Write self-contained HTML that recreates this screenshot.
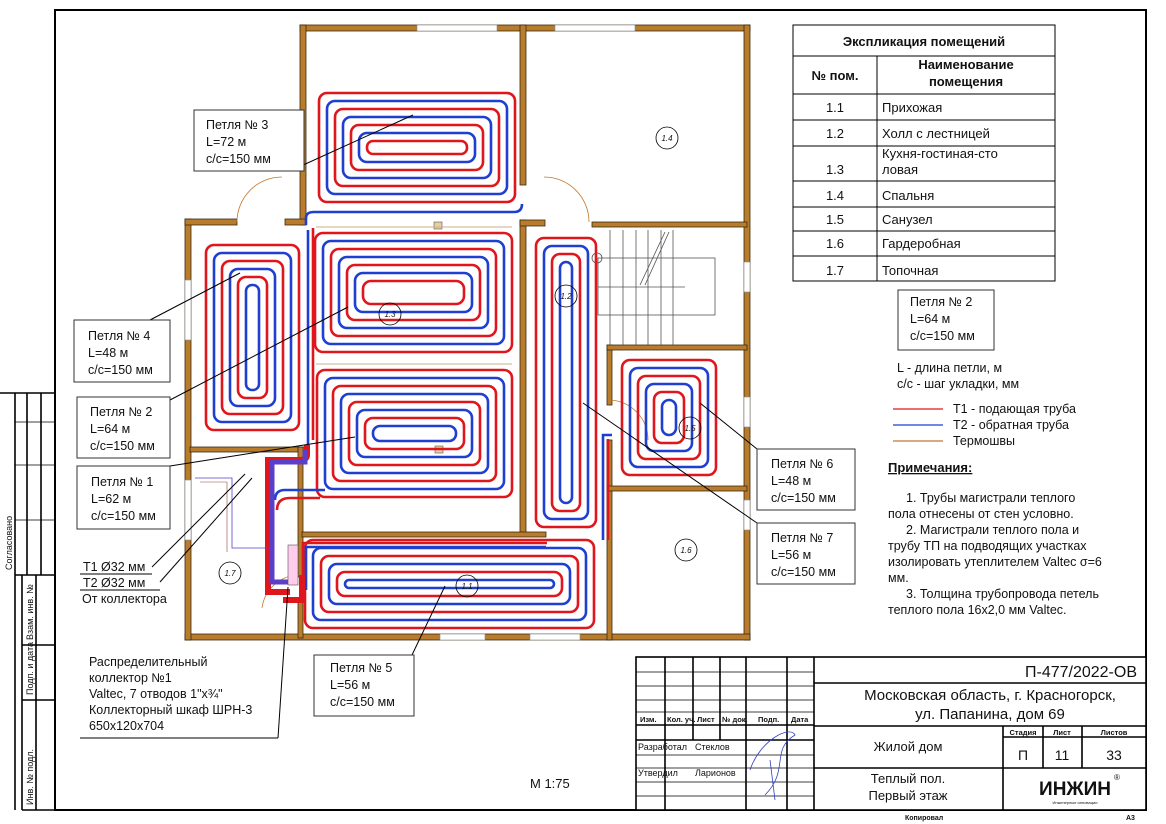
<!DOCTYPE html>
<html><head><meta charset="utf-8"><style>
html,body{margin:0;padding:0;background:#fff}
svg{display:block}
text{font-family:"Liberation Sans",sans-serif;fill:#111}
.w{fill:#b97c2c;stroke:#3a2a10;stroke-width:0.8}
.r{fill:none;stroke:#e0161d;stroke-width:2.6}
.b{fill:none;stroke:#1f3fd0;stroke-width:2.6}
.l{stroke:#000;stroke-width:1;fill:none}
.bx{fill:#fff;stroke:#333;stroke-width:1}
.t{stroke:#000;stroke-width:1.6;fill:none}
.tt{stroke:#000;stroke-width:0.8;fill:none}
</style></head><body>
<svg width="1166" height="824" viewBox="0 0 1166 824" xmlns="http://www.w3.org/2000/svg">
<rect x="55" y="10" width="1091" height="800" fill="none" stroke="#000" stroke-width="2"/>
<g class="t">
<line x1="0" y1="393" x2="55" y2="393"/>
<line x1="15" y1="393" x2="15" y2="810"/>
<line x1="27" y1="393" x2="27" y2="575"/>
<line x1="41" y1="393" x2="41" y2="575"/>
<line x1="22" y1="575" x2="22" y2="810"/>
<line x1="36" y1="575" x2="36" y2="810"/>
<line x1="15" y1="575" x2="55" y2="575"/>
<line x1="22" y1="645" x2="55" y2="645"/>
<line x1="22" y1="700" x2="55" y2="700"/>
<line x1="22" y1="810" x2="55" y2="810"/>
</g>
<g class="tt"><line x1="15" y1="422" x2="55" y2="422"/><line x1="15" y1="465" x2="55" y2="465"/><line x1="15" y1="520" x2="55" y2="520"/></g>
<text font-size="9" transform="translate(12,570) rotate(-90)">Согласовано</text>
<text font-size="9" transform="translate(33,640) rotate(-90)">Взам. инв. №</text>
<text font-size="9" transform="translate(33,695) rotate(-90)">Подп. и дата</text>
<text font-size="9" transform="translate(33,805) rotate(-90)">Инв. № подл.</text>

<rect class="w" x="300" y="25" width="450" height="6"/>
<rect x="417" y="25" width="80" height="6" fill="#fff" stroke="#888" stroke-width="0.6"/>
<rect x="555" y="25" width="80" height="6" fill="#fff" stroke="#888" stroke-width="0.6"/>
<rect class="w" x="300" y="25" width="6" height="200"/>
<rect class="w" x="744" y="25" width="6" height="615"/>
<rect x="744" y="262" width="6" height="30" fill="#fff" stroke="#888" stroke-width="0.6"/>
<rect x="744" y="397" width="6" height="30" fill="#fff" stroke="#888" stroke-width="0.6"/>
<rect x="744" y="500" width="6" height="30" fill="#fff" stroke="#888" stroke-width="0.6"/>
<rect class="w" x="185" y="634" width="565" height="6"/>
<rect x="440" y="634" width="45" height="6" fill="#fff" stroke="#888" stroke-width="0.6"/>
<rect x="530" y="634" width="50" height="6" fill="#fff" stroke="#888" stroke-width="0.6"/>
<rect class="w" x="185" y="219" width="6" height="421"/>
<rect x="185" y="280" width="6" height="60" fill="#fff" stroke="#888" stroke-width="0.6"/>
<rect x="185" y="480" width="6" height="60" fill="#fff" stroke="#888" stroke-width="0.6"/>
<rect class="w" x="185" y="219" width="52" height="6"/>
<rect class="w" x="285" y="219" width="21" height="6"/>
<rect class="w" x="520" y="25" width="6" height="160"/>
<rect class="w" x="520" y="220" width="6" height="315"/>
<rect class="w" x="520" y="220" width="25" height="6"/>
<rect class="w" x="592" y="222" width="155" height="5"/>
<rect class="w" x="190" y="447" width="115" height="5"/>
<rect class="w" x="298" y="447" width="5" height="130"/>
<rect class="w" x="298" y="600" width="5" height="38"/>
<rect class="w" x="302" y="532" width="244" height="5"/>
<rect class="w" x="607" y="345" width="5" height="60"/>
<rect class="w" x="607" y="440" width="5" height="200"/>
<rect class="w" x="607" y="345" width="140" height="5"/>
<rect class="w" x="607" y="486" width="140" height="5"/>
<g fill="none" stroke="#c07830" stroke-width="0.8">
<path d="M282 177 A45 45 0 0 0 237 222"/>
<path d="M544 177 A45 45 0 0 1 589 222"/>
<path d="M610 400 A40 40 0 0 1 648 440"/>
<path d="M262 608 A38 38 0 0 1 298 575"/>
</g>
<g stroke="#555" stroke-width="0.8" fill="none">
<rect x="598" y="258" width="117" height="57"/>
<line x1="598" y1="287" x2="685" y2="287"/>
<line x1="610" y1="230" x2="610" y2="345"/><line x1="623" y1="230" x2="623" y2="345"/><line x1="636" y1="230" x2="636" y2="345"/><line x1="648" y1="230" x2="648" y2="345"/><line x1="661" y1="230" x2="661" y2="345"/><line x1="673" y1="230" x2="673" y2="345"/>
<line x1="665" y1="232" x2="640" y2="285"/><line x1="669" y1="232" x2="645" y2="285"/>
<circle cx="597" cy="258" r="5"/>
</g>
<rect x="434" y="222" width="8" height="7" fill="#e7cfa0" stroke="#555" stroke-width="0.6"/>
<rect x="435" y="446" width="8" height="7" fill="#e7cfa0" stroke="#555" stroke-width="0.6"/>
<line x1="316" y1="227" x2="512" y2="227" stroke="#c9b08a" stroke-width="1"/>
<line x1="316" y1="364" x2="512" y2="364" stroke="#c9b08a" stroke-width="1"/>

<g>
<rect class="r" x="319" y="93" width="196" height="109" rx="8"/>
<rect class="b" x="327" y="101" width="180" height="93" rx="8"/>
<rect class="r" x="335" y="109" width="164" height="77" rx="8"/>
<rect class="b" x="343" y="117" width="148" height="61" rx="8"/>
<rect class="r" x="351" y="125" width="132" height="45" rx="8"/>
<rect class="b" x="359" y="133" width="116" height="29" rx="8"/>
<rect class="r" x="367" y="141" width="100" height="13" rx="6"/>
<path class="b" d="M306 225 V218 Q306 212 314 212 H514 Q522 212 522 204"/>

<rect class="r" x="315" y="233" width="197" height="119" rx="8"/>
<rect class="b" x="323" y="241" width="181" height="103" rx="8"/>
<rect class="r" x="331" y="249" width="165" height="87" rx="8"/>
<rect class="b" x="339" y="257" width="149" height="71" rx="8"/>
<rect class="r" x="347" y="265" width="133" height="55" rx="8"/>
<rect class="b" x="355" y="273" width="117" height="39" rx="8"/>
<rect class="r" x="363" y="281" width="101" height="23" rx="8"/>
<path class="b" d="M308 230 V445"/>
<path class="r" d="M313 228 V440"/>

<rect class="r" x="317" y="370" width="195" height="127" rx="8"/>
<rect class="b" x="325" y="378" width="179" height="111" rx="8"/>
<rect class="r" x="333" y="386" width="163" height="95" rx="8"/>
<rect class="b" x="341" y="394" width="147" height="79" rx="8"/>
<rect class="r" x="349" y="402" width="131" height="63" rx="8"/>
<rect class="b" x="357" y="410" width="115" height="47" rx="8"/>
<rect class="r" x="365" y="418" width="99" height="31" rx="8"/>
<rect class="b" x="373" y="426" width="83" height="15" rx="7"/>
<path class="b" d="M275 500 Q275 490 285 490 H325"/>
<path class="r" d="M277 510 Q277 498 290 498 H320"/>

<rect class="r" x="206" y="245" width="93" height="185" rx="8"/>
<rect class="b" x="214" y="253" width="77" height="169" rx="8"/>
<rect class="r" x="222" y="261" width="61" height="153" rx="8"/>
<rect class="b" x="230" y="269" width="45" height="137" rx="8"/>
<rect class="r" x="238" y="277" width="29" height="121" rx="8"/>
<rect class="b" x="246" y="285" width="13" height="105" rx="6"/>

<rect class="r" x="536" y="238" width="60" height="289" rx="8"/>
<rect class="b" x="544" y="246" width="44" height="273" rx="8"/>
<rect class="r" x="552" y="254" width="28" height="257" rx="8"/>
<rect class="b" x="560" y="262" width="12" height="241" rx="6"/>
<path class="b" d="M603 540 V435 H612"/>
<path class="r" d="M608 540 V439"/>

<rect class="r" x="622" y="360" width="94" height="115" rx="8"/>
<rect class="b" x="630" y="368" width="78" height="99" rx="8"/>
<rect class="r" x="638" y="376" width="62" height="83" rx="8"/>
<rect class="b" x="646" y="384" width="46" height="67" rx="8"/>
<rect class="r" x="654" y="392" width="30" height="51" rx="8"/>
<rect class="b" x="662" y="400" width="14" height="35" rx="7"/>

<rect class="r" x="305" y="540" width="289" height="88" rx="8"/>
<rect class="b" x="313" y="548" width="273" height="72" rx="8"/>
<rect class="r" x="321" y="556" width="257" height="56" rx="8"/>
<rect class="b" x="329" y="564" width="241" height="40" rx="8"/>
<rect class="r" x="337" y="572" width="225" height="24" rx="8"/>
<rect class="b" x="345" y="580" width="209" height="8" rx="4"/>
<path class="r" d="M303 595 V543 H547"/>
<path class="b" d="M306 590 V547 H546"/>
</g>
<path d="M307 445 V455 Q307 460 300 460 H268 V592 H290" fill="none" stroke="#e0161d" stroke-width="6"/>
<path d="M305 450 V462 H272 V582 H290" fill="none" stroke="#5a3fc8" stroke-width="5"/>
<path d="M283 600 H302 V575" fill="none" stroke="#e0161d" stroke-width="6"/>
<rect x="288" y="545" width="10" height="40" fill="#fce" stroke="#555" stroke-width="0.6"/>
<path d="M195 478 H232 V548 H268" fill="none" stroke="#5a3fc8" stroke-width="0.8"/>
<path d="M200 482 H227 V552" fill="none" stroke="#9a4040" stroke-width="0.6"/>

<g fill="none" stroke="#000" stroke-width="0.8">
<circle cx="667" cy="138" r="11"/><circle cx="390" cy="314" r="11"/><circle cx="566" cy="296" r="11"/>
<circle cx="690" cy="428" r="11"/><circle cx="230" cy="573" r="11"/><circle cx="467" cy="586" r="11"/><circle cx="686" cy="550" r="11"/>
</g>
<g font-size="8" text-anchor="middle" font-style="italic">
<text x="667" y="141">1.4</text><text x="390" y="317">1.3</text><text x="566" y="299">1.2</text>
<text x="690" y="431">1.5</text><text x="230" y="576">1.7</text><text x="467" y="589">1.1</text><text x="686" y="553">1.6</text>
</g>

<g class="l" stroke-width="0.8">
<line x1="290" y1="171" x2="413" y2="115"/>
<line x1="150" y1="320" x2="240" y2="273"/>
<line x1="170" y1="400" x2="348" y2="307"/>
<line x1="170" y1="466" x2="355" y2="437"/>
<line x1="152" y1="567" x2="245" y2="474"/>
<line x1="160" y1="582" x2="252" y2="478"/>
<line x1="80" y1="574" x2="152" y2="574"/><line x1="80" y1="590" x2="160" y2="590"/>
<line x1="80" y1="738" x2="278" y2="738"/>
<line x1="278" y1="738" x2="288" y2="587"/>
<line x1="412" y1="655" x2="445" y2="586"/>
<line x1="757" y1="449" x2="700" y2="403"/>
<line x1="757" y1="523" x2="583" y2="403"/>
</g>

<g font-size="12.5">
<rect class="bx" x="194" y="110" width="110" height="61"/>
<text x="206" y="129">Петля № 3</text><text x="206" y="146">L=72 м</text><text x="206" y="163">с/с=150 мм</text>
<rect class="bx" x="74" y="320" width="96" height="62"/>
<text x="88" y="340">Петля № 4</text><text x="88" y="357">L=48 м</text><text x="88" y="374">с/с=150 мм</text>
<rect class="bx" x="77" y="397" width="93" height="61"/>
<text x="90" y="416">Петля № 2</text><text x="90" y="433">L=64 м</text><text x="90" y="450">с/с=150 мм</text>
<rect class="bx" x="77" y="466" width="93" height="63"/>
<text x="91" y="486">Петля № 1</text><text x="91" y="503">L=62 м</text><text x="91" y="520">с/с=150 мм</text>
<text x="83" y="571">Т1 Ø32 мм</text><text x="83" y="587">Т2 Ø32 мм</text><text x="82" y="603">От коллектора</text>
<text x="89" y="666">Распределительный</text><text x="89" y="682">коллектор №1</text>
<text x="89" y="698">Valtec, 7 отводов 1"x¾"</text><text x="89" y="714">Коллекторный шкаф ШРН-3</text><text x="89" y="730">650x120x704</text>
<rect class="bx" x="314" y="655" width="100" height="61"/>
<text x="330" y="672">Петля № 5</text><text x="330" y="689">L=56 м</text><text x="330" y="706">с/с=150 мм</text>
<rect class="bx" x="757" y="449" width="98" height="61"/>
<text x="771" y="468">Петля № 6</text><text x="771" y="485">L=48 м</text><text x="771" y="502">с/с=150 мм</text>
<rect class="bx" x="757" y="523" width="98" height="61"/>
<text x="771" y="542">Петля № 7</text><text x="771" y="559">L=56 м</text><text x="771" y="576">с/с=150 мм</text>
<rect class="bx" x="898" y="290" width="96" height="60"/>
<text x="910" y="306">Петля № 2</text><text x="910" y="323">L=64 м</text><text x="910" y="340">с/с=150 мм</text>
</g>

<g stroke="#000" stroke-width="1" fill="none">
<rect x="793" y="25" width="262" height="256"/>
<line x1="793" y1="56" x2="1055" y2="56"/><line x1="793" y1="94" x2="1055" y2="94"/>
<line x1="877" y1="56" x2="877" y2="281"/>
<line x1="793" y1="120" x2="1055" y2="120"/><line x1="793" y1="146" x2="1055" y2="146"/>
<line x1="793" y1="181" x2="1055" y2="181"/><line x1="793" y1="207" x2="1055" y2="207"/>
<line x1="793" y1="231" x2="1055" y2="231"/><line x1="793" y1="256" x2="1055" y2="256"/>
</g>
<g font-size="13">
<text x="924" y="46" text-anchor="middle" font-weight="bold">Экспликация помещений</text>
<text x="835" y="80" text-anchor="middle" font-weight="bold">№ пом.</text>
<text x="966" y="69" text-anchor="middle" font-weight="bold">Наименование</text>
<text x="966" y="86" text-anchor="middle" font-weight="bold">помещения</text>
<g text-anchor="middle"><text x="835" y="112">1.1</text><text x="835" y="138">1.2</text><text x="835" y="174">1.3</text><text x="835" y="200">1.4</text><text x="835" y="224">1.5</text><text x="835" y="248">1.6</text><text x="835" y="275">1.7</text></g>
<text x="882" y="112">Прихожая</text><text x="882" y="138">Холл с лестницей</text>
<text x="882" y="158">Кухня-гостиная-сто</text><text x="882" y="174">ловая</text>
<text x="882" y="200">Спальня</text><text x="882" y="224">Санузел</text><text x="882" y="248">Гардеробная</text><text x="882" y="275">Топочная</text>
</g>
<g font-size="12.5">
<text x="897" y="372">L - длина петли, м</text><text x="897" y="388">с/с - шаг укладки, мм</text>
<line x1="893" y1="409" x2="943" y2="409" stroke="#e0161d" stroke-width="1.2"/>
<line x1="893" y1="425" x2="943" y2="425" stroke="#1f3fd0" stroke-width="1.2"/>
<line x1="893" y1="441" x2="943" y2="441" stroke="#c07830" stroke-width="1.2"/>
<text x="953" y="413">Т1 - подающая труба</text><text x="953" y="429">Т2 - обратная труба</text><text x="953" y="445">Термошвы</text>
<text x="888" y="472" font-weight="bold" font-size="13" text-decoration="underline">Примечания:</text>
<text x="906" y="502">1.    Трубы магистрали теплого</text><text x="888" y="518">пола отнесены от стен условно.</text>
<text x="906" y="534">2.    Магистрали теплого пола и</text><text x="888" y="550">трубу ТП на подводящих участках</text>
<text x="888" y="566">изолировать утеплителем Valtec σ=6</text><text x="888" y="582">мм.</text>
<text x="906" y="598">3.    Толщина трубопровода петель</text><text x="888" y="614">теплого пола 16x2,0 мм Valtec.</text>
</g>
<text x="530" y="788" font-size="13">М 1:75</text>

<g class="t">
<rect x="636" y="657" width="510" height="153" fill="#fff"/>
<line x1="814" y1="657" x2="814" y2="810"/>
<line x1="665" y1="657" x2="665" y2="810"/><line x1="693" y1="657" x2="693" y2="740"/>
<line x1="720" y1="657" x2="720" y2="740"/><line x1="746" y1="657" x2="746" y2="810"/>
<line x1="787" y1="657" x2="787" y2="810"/>
<line x1="636" y1="725" x2="814" y2="725"/><line x1="636" y1="740" x2="814" y2="740"/>
<line x1="814" y1="683" x2="1146" y2="683"/><line x1="814" y1="726" x2="1146" y2="726"/><line x1="814" y1="768" x2="1146" y2="768"/>
<line x1="1003" y1="726" x2="1003" y2="810"/><line x1="1043" y1="726" x2="1043" y2="768"/><line x1="1082" y1="726" x2="1082" y2="768"/>
<line x1="1003" y1="737" x2="1146" y2="737"/>
</g>
<g class="tt">
<line x1="636" y1="672" x2="814" y2="672"/><line x1="636" y1="686" x2="814" y2="686"/><line x1="636" y1="700" x2="814" y2="700"/><line x1="636" y1="712" x2="814" y2="712"/>
<line x1="636" y1="755" x2="814" y2="755"/><line x1="636" y1="768" x2="814" y2="768"/><line x1="636" y1="782" x2="814" y2="782"/><line x1="636" y1="796" x2="814" y2="796"/>
</g>
<g font-size="7.5" font-weight="bold">
<text x="640" y="722">Изм.</text><text x="667" y="722">Кол. уч.</text><text x="697" y="722">Лист</text><text x="722" y="722">№ док.</text><text x="758" y="722">Подп.</text><text x="791" y="722">Дата</text>
</g>
<g font-size="9">
<text x="638" y="750">Разработал</text><text x="695" y="750">Стеклов</text>
<text x="638" y="776">Утвердил</text><text x="695" y="776">Ларионов</text>
</g>
<path d="M750 770 C760 740 790 725 795 735 C770 750 790 770 765 795 M770 760 L775 800" fill="none" stroke="#3040c0" stroke-width="0.8"/>
<text x="1137" y="677" font-size="16" text-anchor="end">П-477/2022-ОВ</text>
<text x="990" y="700" font-size="15" text-anchor="middle">Московская область, г. Красногорск,</text>
<text x="990" y="719" font-size="15" text-anchor="middle">ул. Папанина, дом 69</text>
<text x="908" y="751" font-size="13" text-anchor="middle">Жилой дом</text>
<g font-size="7.5" font-weight="bold" text-anchor="middle"><text x="1023" y="735">Стадия</text><text x="1062" y="735">Лист</text><text x="1114" y="735">Листов</text></g>
<g font-size="14" text-anchor="middle"><text x="1023" y="760">П</text><text x="1062" y="760">11</text><text x="1114" y="760">33</text></g>
<text x="908" y="783" font-size="13" text-anchor="middle">Теплый пол.</text>
<text x="908" y="800" font-size="13" text-anchor="middle">Первый этаж</text>
<text x="1075" y="795" font-size="19" font-weight="bold" text-anchor="middle" fill="#111">ИНЖИН</text>
<text x="1114" y="780" font-size="8">®</text>
<text x="1075" y="804" font-size="4" text-anchor="middle" fill="#5a8a30">Инженерные инновации</text>
<text x="905" y="820" font-size="7" font-weight="bold">Копировал</text>
<text x="1126" y="820" font-size="7" font-weight="bold">А3</text>
</svg>
</body></html>
